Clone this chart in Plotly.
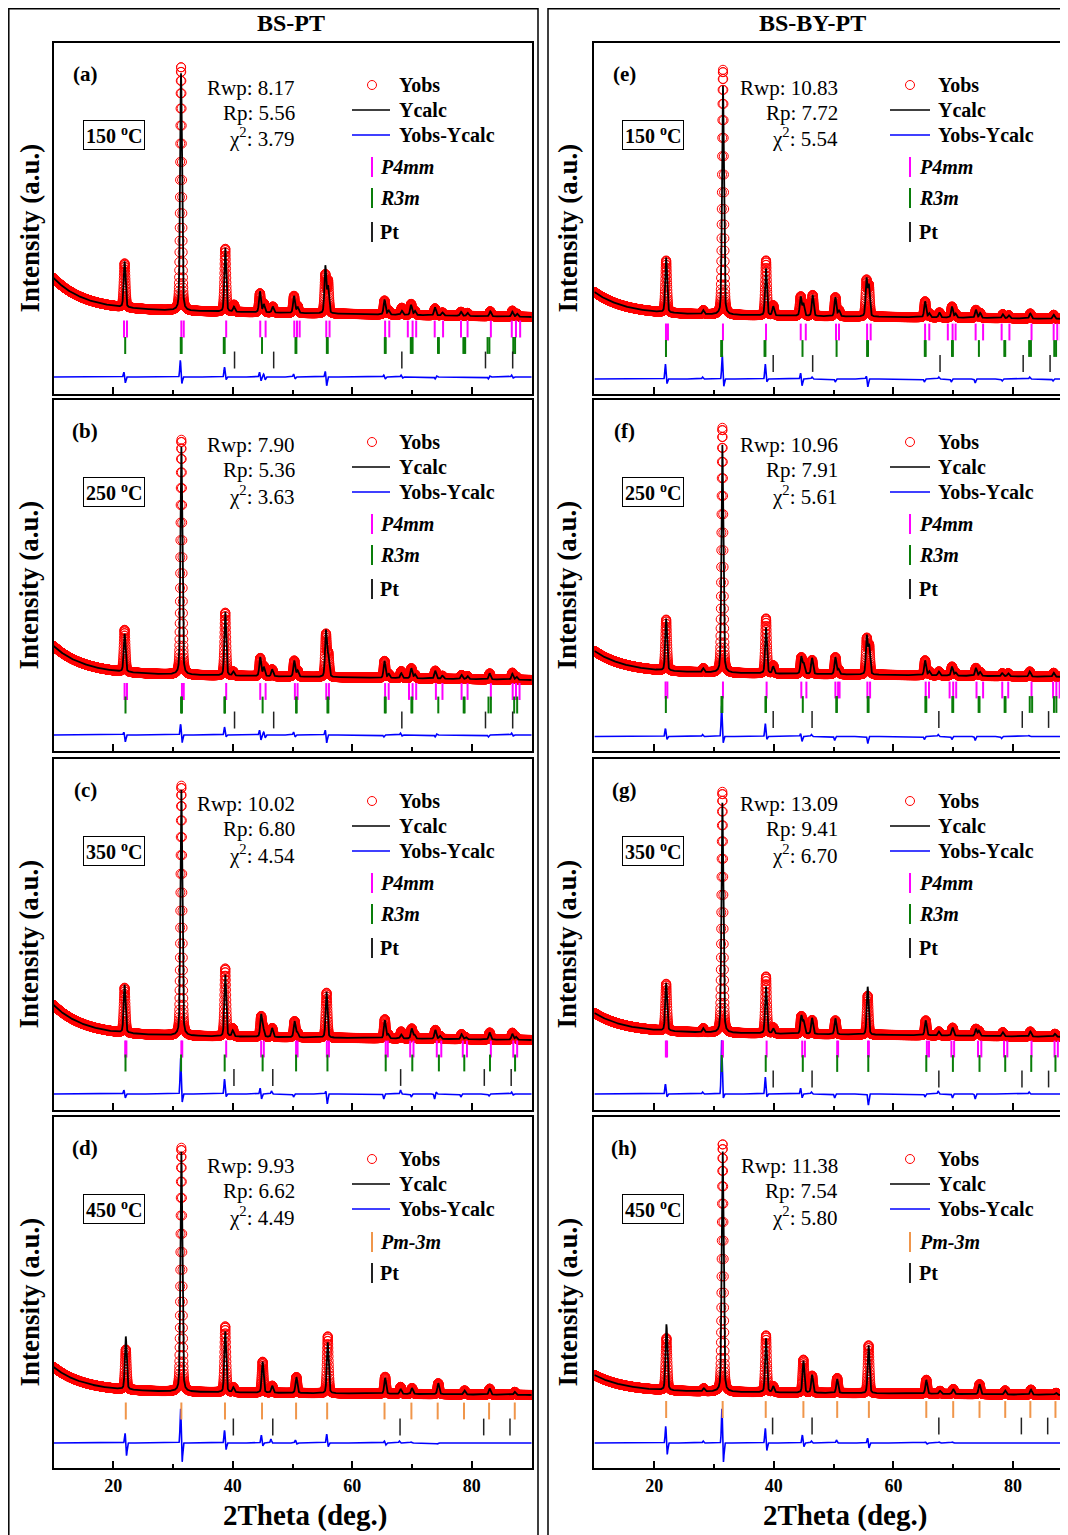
import numpy as np
import plotly.graph_objects as go

# page is drawn with an 8 px body margin: the figure starts at page pixel 8
OFF = 8
W, H = 1068, 1535 - OFF

# ---------------- data ----------------
# peak positions (2theta), observed / calculated peak heights above background
A_POS = [21.9, 31.35, 38.75, 40.2, 44.55, 45.2, 46.7, 50.25, 50.85, 55.5, 55.95, 65.4, 66.1, 68.3, 69.85, 70.5, 73.85, 75.1, 78.2, 79.3, 83.1, 86.8, 87.6]
A_OBS = [44, 244, 63, 7, 19, 9, 6, 17, 7, 38, 32, 14, 4, 7, 11, 4, 7, 3, 4, 3, 5, 6, 3]
A_CALC = [46, 238, 64, 5, 21, 8, 6, 17, 6, 47, 26, 15, 4, 4, 10, 4, 8, 3, 4, 3, 5, 5, 3]
A_BG = [116, 83, 77]
A_DIFF_POS = [21.9, 31.35, 38.75, 44.6, 45.3, 50.3, 55.6, 65.4, 68.3, 74.0, 82.9, 86.8]
A_DIFF_L = [5, 17, 10, 5, 3, 3, 6, 2, 2, -2, -2, 2]
A_DIFF_R = [-6, -7, -3, -4, -3, -2, -9, -2, -1, 1, 1, -1]
A_P4MM = [21.8, 22.3, 31.4, 31.8, 38.9, 44.6, 45.5, 50.3, 50.75, 51.2, 55.65, 56.2, 65.5, 66.2, 69.3, 70.1, 70.7, 73.8, 75.2, 78.2, 79.3, 83.2, 86.7, 87.4, 88.1]
A_R3M = [22.0, 31.3, 31.45, 38.5, 38.65, 44.9, 50.5, 50.65, 55.75, 55.9, 65.45, 65.6, 69.8, 69.95, 70.1, 74.35, 74.5, 78.6, 78.75, 78.9, 82.65, 82.95, 86.95, 87.25]
A_PT = [40.3, 46.85, 68.3, 82.3, 86.85]
A_STATS = ["8.17", "5.56", "3.79"]

B_POS = [21.9, 31.4, 38.75, 40.1, 44.6, 45.2, 46.6, 50.3, 50.85, 55.6, 56.0, 65.4, 66.1, 68.2, 69.9, 70.5, 73.9, 75.1, 78.3, 79.3, 83.0, 86.8, 87.5]
B_OBS = [42, 235, 63, 4, 18, 10, 7, 16, 6, 42, 22, 17, 4, 7, 10, 4, 8, 3, 4, 3, 6, 7, 3]
B_CALC = [38, 228, 64, 4, 19, 9, 7, 16, 6, 46, 20, 17, 4, 5, 10, 4, 8, 3, 4, 3, 6, 6, 3]
B_BG = [105, 76, 71]
B_DIFF_POS = [21.9, 31.4, 38.75, 44.6, 45.3, 50.3, 55.6, 65.4, 68.2, 74.0, 82.9, 86.8]
B_DIFF_L = [3, 11, 8, 5, 3, 3, 5, -2, 2, -2, -2, 2]
B_DIFF_R = [-7, -8, -2, -5, -3, -2, -8, 0, -1, 1, 0, -1]
B_P4MM = [21.9, 22.3, 31.5, 31.8, 38.9, 44.6, 45.5, 50.4, 50.85, 55.65, 56.1, 65.5, 66.1, 69.5, 70.1, 70.7, 74.0, 75.1, 78.3, 79.3, 83.2, 86.85, 87.4, 88.0]
B_R3M = [22.05, 31.35, 31.5, 38.6, 38.7, 45.0, 50.6, 50.7, 55.85, 56.0, 65.45, 65.6, 69.9, 70.05, 74.4, 78.65, 78.8, 82.8, 83.2, 87.1, 87.6]
B_PT = [40.3, 46.85, 68.3, 82.3, 86.85]
B_STATS = ["7.90", "5.36", "3.63"]

C_POS = [21.9, 31.4, 38.75, 40.0, 44.75, 45.1, 46.6, 50.35, 50.8, 55.7, 65.45, 66.0, 68.2, 69.95, 70.4, 73.9, 74.7, 78.3, 79.0, 83.0, 86.8, 87.4]
C_OBS = [45, 250, 68, 8, 20, 8, 9, 16, 5, 45, 19, 4, 7, 10, 4, 9, 3, 5, 2, 7, 7, 3]
C_CALC = [48, 246, 62, 6, 22, 8, 9, 16, 5, 46, 18, 4, 4, 10, 4, 9, 3, 5, 2, 7, 6, 3]
C_BG = [105, 74, 70]
C_DIFF_POS = [21.9, 31.4, 38.75, 44.7, 46.6, 50.3, 55.7, 65.4, 68.2, 70.0, 73.9, 78.3, 83.0, 86.8]
C_DIFF_L = [4, 36, 15, 6, 3, -3, 3, -5, 4, -3, -5, -3, -2, 2]
C_DIFF_R = [-4, -9, -3, -5, 0, 0, -10, 0, 0, 0, 2, 0, 0, -1]
C_P4MM = [22.0, 22.2, 31.4, 31.55, 38.9, 44.75, 45.2, 50.6, 50.85, 55.75, 56.1, 65.6, 65.95, 69.7, 70.25, 74.15, 74.9, 78.5, 79.2, 83.2, 86.95, 87.6]
C_R3M = [22.05, 31.35, 38.65, 45.0, 50.6, 55.85, 65.6, 70.05, 74.5, 78.75, 83.05, 87.25]
C_PT = [40.2, 46.7, 68.1, 82.1, 86.6]
C_STATS = ["10.02", "6.80", "4.54"]

D_POS = [22.1, 31.4, 38.75, 40.1, 45.0, 46.6, 50.65, 55.9, 65.5, 68.1, 70.0, 74.4, 78.8, 83.0, 87.2]
D_OBS = [40, 244, 66, 5, 31, 7, 16, 57, 17, 7, 6, 11, 4, 6, 3]
D_CALC = [53, 240, 61, 5, 31, 7, 16, 51, 16, 5, 6, 11, 4, 6, 3]
D_BG = [101, 76, 73]
D_DIFF_POS = [22.1, 31.4, 38.75, 44.9, 46.5, 50.6, 55.85, 65.5, 68.0, 70.0, 74.4]
D_DIFF_L = [10, 35, 13, 8, 4, 3, 9, 2, 2, 1, -1]
D_DIFF_R = [-13, -20, -7, -3, 0, -1, -4, -2, 0, 0, 0]
D_PM3M = [22.1, 31.4, 38.7, 44.9, 50.6, 55.8, 65.4, 69.9, 74.3, 78.7, 82.9, 87.2]
D_PT = [40.1, 46.7, 68.0, 82.0, 86.4]
D_STATS = ["9.93", "6.62", "4.49"]

E_POS = [22.0, 28.2, 31.5, 38.7, 39.9, 44.5, 44.95, 46.5, 50.3, 50.9, 55.5, 55.9, 65.3, 66.0, 67.7, 69.8, 70.4, 73.8, 74.5, 78.3, 79.3, 82.9, 86.8]
E_OBS = [52, 4, 245, 55, 10, 19, 12, 21, 19, 6, 35, 30, 16, 4, 5, 11, 4, 8, 5, 4, 3, 5, 4]
E_CALC = [55, 4, 229, 47, 9, 19, 12, 21, 19, 6, 37, 30, 16, 4, 5, 11, 4, 8, 5, 4, 3, 5, 4]
E_BG = [102, 79, 75]
E_DIFF_POS = [22.0, 28.2, 31.5, 38.7, 44.6, 46.5, 50.4, 55.6, 65.3, 67.7, 69.8, 73.8, 78.3, 82.9, 86.8]
E_DIFF_L = [15, 2, 24, 15, 6, 2, -3, 3, -3, 2, -3, -4, -2, 2, -2]
E_DIFF_R = [-5, 0, -8, -3, -7, 0, 0, -8, 0, 0, 0, 0, 0, 0, 0]
E_P4MM = [21.97, 22.3, 31.5, 38.7, 44.5, 45.35, 50.4, 50.9, 55.6, 56.2, 65.3, 66.0, 69.1, 69.9, 70.4, 73.75, 75.0, 78.1, 79.4, 83.1, 86.8, 87.4, 88.0]
E_R3M = [21.97, 31.2, 31.35, 38.45, 38.6, 44.8, 50.5, 55.6, 55.75, 65.25, 65.4, 69.8, 69.95, 74.3, 78.55, 78.7, 82.7, 83.0, 86.9, 87.2]
E_PT = [39.9, 46.5, 67.8, 81.7, 86.2]
E_STATS = ["10.83", "7.72", "5.54"]

F_POS = [22.0, 28.2, 31.4, 38.7, 39.9, 44.6, 45.0, 46.4, 50.3, 50.8, 55.55, 55.95, 65.3, 66.0, 67.6, 69.8, 70.4, 73.8, 74.5, 78.2, 79.2, 82.8, 86.8]
F_OBS = [51, 4, 245, 55, 8, 16, 10, 14, 17, 5, 35, 28, 15, 4, 4, 9, 3, 8, 4, 3, 3, 5, 4]
F_CALC = [52, 4, 228, 46, 7, 17, 10, 16, 17, 5, 38, 28, 15, 4, 4, 9, 3, 8, 4, 3, 3, 5, 4]
F_BG = [100, 78, 74]
F_DIFF_POS = [22.0, 28.2, 31.4, 38.7, 44.6, 46.4, 50.3, 55.6, 65.3, 67.6, 69.9, 73.8, 78.2, 82.8]
F_DIFF_L = [8, 2, 31, 13, 3, 2, -4, 0, -3, 2, -3, -4, -2, 1]
F_DIFF_R = [-3, 0, -7, -3, -5, 0, 0, -7, 0, 0, 0, 0, 0, 0]
F_P4MM = [21.9, 22.2, 31.5, 38.8, 44.6, 45.45, 50.3, 50.75, 51.0, 55.65, 56.1, 65.4, 65.95, 69.4, 70.0, 70.5, 73.9, 75.0, 78.2, 79.2, 83.1, 86.7, 87.25, 87.8]
F_R3M = [21.95, 31.25, 31.4, 38.6, 38.7, 44.85, 50.45, 50.55, 55.7, 55.85, 65.35, 65.5, 69.85, 70.0, 74.25, 74.4, 78.6, 78.75, 82.8, 83.2, 86.85, 87.25]
F_PT = [39.9, 46.4, 67.6, 81.55, 85.95]
F_STATS = ["10.96", "7.91", "5.61"]

G_POS = [22.0, 28.2, 31.4, 38.7, 39.9, 44.6, 45.0, 46.4, 50.3, 55.7, 65.4, 67.6, 69.9, 73.8, 74.3, 78.3, 82.9, 87.0]
G_OBS = [47, 4, 241, 57, 6, 17, 12, 14, 14, 39, 15, 4, 8, 7, 5, 4, 5, 3]
G_CALC = [48, 4, 230, 47, 5, 18, 12, 16, 16, 48, 15, 4, 8, 7, 5, 4, 5, 3]
G_BG = [97, 77, 73]
G_DIFF_POS = [22.0, 28.2, 31.4, 38.7, 44.6, 46.4, 50.3, 55.7, 65.4, 67.6, 70.0, 73.8, 82.8]
G_DIFF_L = [10, 2, 54, 17, 6, 2, -4, 0, -3, 3, -4, -5, 2]
G_DIFF_R = [-3, 0, -5, -3, -4, 0, 0, -11, 0, 0, 0, 0, 0]
G_P4MM = [21.95, 22.15, 31.4, 31.5, 38.8, 44.75, 45.2, 50.6, 50.75, 55.75, 55.9, 65.6, 65.95, 69.7, 70.15, 74.15, 74.7, 78.5, 79.05, 83.1, 86.95, 87.5]
G_R3M = [31.3, 38.65, 44.85, 50.6, 55.8, 65.5, 69.95, 74.4, 78.7, 83.05, 87.1]
G_PT = [39.9, 46.4, 67.6, 81.5, 85.95]
G_STATS = ["13.09", "9.41", "6.70"]

H_POS = [22.05, 28.3, 31.45, 38.7, 39.9, 44.95, 46.4, 50.6, 55.85, 65.5, 67.8, 70.0, 74.4, 78.7, 83.0, 87.2]
H_OBS = [52, 3, 248, 57, 6, 33, 17, 15, 48, 14, 3, 5, 10, 4, 5, 2]
H_CALC = [66, 3, 241, 54, 6, 32, 18, 14, 48, 14, 3, 5, 10, 4, 5, 2]
H_BG = [93, 76, 73]
H_DIFF_POS = [22.05, 28.3, 31.45, 38.7, 44.9, 46.4, 50.6, 55.8, 65.5, 67.8, 70.0]
H_DIFF_L = [17, 2, 35, 15, 8, 2, 3, 5, 1, 1, 1]
H_DIFF_R = [-12, 0, -20, -8, -4, 0, 0, -5, -1, 0, 0]
H_PM3M = [22.0, 31.45, 38.65, 44.95, 50.6, 55.9, 65.5, 70.0, 74.4, 78.7, 82.9, 87.1]
H_PT = [39.8, 46.4, 67.6, 81.4, 85.8]
H_STATS = ["11.38", "7.54", "5.80"]

TEMPS = ["150", "250", "350", "450"]
COLUMN_TITLES = ["BS-PT", "BS-BY-PT"]
X_TICKS = [20, 40, 60, 80]

# ---------------- styling / layout ----------------
RED, BLACK, BLUE = "#ff0000", "#000000", "#0000ff"
MAGENTA, GREEN, ORANGE, PTC = "#ff00ff", "#0a7d0a", "#f0964b", "#222222"
FONT = "Liberation Serif"

ROWS = [(43, 394), (400, 751), (759, 1110), (1117, 1468)]
PX_PER_DEG = 5.98
RIGHT_END = OFF + W  # right column runs to the figure edge (beyond the window)
COLS = [(53.5, 531.5, 90.0), (594.4, RIGHT_END, 10 + (RIGHT_END - 594.4) / PX_PER_DEG)]


def fx(px):
    return (px - OFF) / W


def fy(py):
    return 1 - (py - OFF) / H


X = np.arange(10.0, 90.9, 0.02)


def profile(x, pos, amp, fwhm=0.36, eta=0.3):
    y = np.zeros_like(x)
    for p, a in zip(pos, amp):
        d = (x - p) / (fwhm / 2)
        y += a * (eta / (1 + d ** 2) + (1 - eta) * np.exp(-np.log(2) * d ** 2))
    return y


def background(x, bg, tau=5.0):
    L, M, R = bg
    lin = M + (R - M) * (x - 30) / 60
    lin10 = M + (R - M) * (10 - 30) / 60
    return lin + (L - lin10) * np.exp(-(x - 10) / tau)


def diff_curve(x, base, pos, left, right, d=0.12, w=0.22):
    y = np.full_like(x, float(base))
    for p, a, b in zip(pos, left, right):
        y += a * np.exp(-4 * np.log(2) * ((x - p + d) / w) ** 2)
        y += b * np.exp(-4 * np.log(2) * ((x - p - d) / w) ** 2)
    return y


PANELS = [
    dict(k="a", c=0, r=0, pos=A_POS, obs=A_OBS, calc=A_CALC, bg=A_BG, dp=A_DIFF_POS, dl=A_DIFF_L, dr=A_DIFF_R, db=17,
         ph=[(A_P4MM, MAGENTA, 65, "P4mm", True), (A_R3M, GREEN, 48.5, "R3m", True), (A_PT, PTC, 34, "Pt", False)], st=A_STATS),
    dict(k="b", c=0, r=1, pos=B_POS, obs=B_OBS, calc=B_CALC, bg=B_BG, dp=B_DIFF_POS, dl=B_DIFF_L, dr=B_DIFF_R, db=16,
         ph=[(B_P4MM, MAGENTA, 59.5, "P4mm", True), (B_R3M, GREEN, 46, "R3m", True), (B_PT, PTC, 31, "Pt", False)], st=B_STATS),
    dict(k="c", c=0, r=2, pos=C_POS, obs=C_OBS, calc=C_CALC, bg=C_BG, dp=C_DIFF_POS, dl=C_DIFF_L, dr=C_DIFF_R, db=16,
         ph=[(C_P4MM, MAGENTA, 61, "P4mm", True), (C_R3M, GREEN, 47, "R3m", True), (C_PT, PTC, 32.5, "Pt", False)], st=C_STATS),
    dict(k="d", c=0, r=3, pos=D_POS, obs=D_OBS, calc=D_CALC, bg=D_BG, dp=D_DIFF_POS, dl=D_DIFF_L, dr=D_DIFF_R, db=25,
         ph=[(D_PM3M, ORANGE, 57, "Pm-3m", True), (D_PT, PTC, 41, "Pt", False)], st=D_STATS),
    dict(k="e", c=1, r=0, pos=E_POS, obs=E_OBS, calc=E_CALC, bg=E_BG, dp=E_DIFF_POS, dl=E_DIFF_L, dr=E_DIFF_R, db=15,
         ph=[(E_P4MM, MAGENTA, 62, "P4mm", True), (E_R3M, GREEN, 45.5, "R3m", True), (E_PT, PTC, 30.5, "Pt", False)], st=E_STATS),
    dict(k="f", c=1, r=1, pos=F_POS, obs=F_OBS, calc=F_CALC, bg=F_BG, dp=F_DIFF_POS, dl=F_DIFF_L, dr=F_DIFF_R, db=14.5,
         ph=[(F_P4MM, MAGENTA, 61, "P4mm", True), (F_R3M, GREEN, 46.5, "R3m", True), (F_PT, PTC, 31.5, "Pt", False)], st=F_STATS),
    dict(k="g", c=1, r=2, pos=G_POS, obs=G_OBS, calc=G_CALC, bg=G_BG, dp=G_DIFF_POS, dl=G_DIFF_L, dr=G_DIFF_R, db=16,
         ph=[(G_P4MM, MAGENTA, 61, "P4mm", True), (G_R3M, GREEN, 46.5, "R3m", True), (G_PT, PTC, 31, "Pt", False)], st=G_STATS),
    dict(k="h", c=1, r=3, pos=H_POS, obs=H_OBS, calc=H_CALC, bg=H_BG, dp=H_DIFF_POS, dl=H_DIFF_L, dr=H_DIFF_R, db=25,
         ph=[(H_PM3M, ORANGE, 58.5, "Pm-3m", True), (H_PT, PTC, 42, "Pt", False)], st=H_STATS),
]

fig = go.Figure()
layout = dict(width=W, height=H, autosize=False, margin=dict(l=0, r=0, t=0, b=0),
              paper_bgcolor="white", plot_bgcolor="white", showlegend=False)
shapes, annotations = [], []


def text(x, y, s, size=20, xanchor="center", **kw):
    annotations.append(dict(x=fx(x), y=fy(y), xref="paper", yref="paper", text=s, showarrow=False,
                            xanchor=xanchor, yanchor="middle",
                            font=dict(family=FONT, size=size, color="black"), **kw))


def pline(x0, y0, x1, y1, color, width):
    shapes.append(dict(type="line", xref="paper", yref="paper", x0=fx(x0), y0=fy(y0), x1=fx(x1), y1=fy(y1),
                       line=dict(color=color, width=width)))


for i, p in enumerate(PANELS, start=1):
    c, r = p["c"], p["r"]
    xl, xr, xmax = COLS[c]
    top, bot = ROWS[r]
    xa, ya = ("x", "y") if i == 1 else (f"x{i}", f"y{i}")
    bgv = background(X, p["bg"])
    yobs = bgv + profile(X, p["pos"], p["obs"])
    ycalc = bgv + profile(X, p["pos"], p["calc"])
    ydiff = diff_curve(X, p["db"], p["dp"], p["dl"], p["dr"])

    fig.add_trace(go.Scatter(x=X, y=yobs, mode="markers", xaxis=xa, yaxis=ya, hoverinfo="skip",
                             marker=dict(symbol="circle-open", size=9, color=RED, line=dict(width=1, color=RED))))
    fig.add_trace(go.Scatter(x=X, y=ycalc, mode="lines", xaxis=xa, yaxis=ya, hoverinfo="skip",
                             line=dict(color=BLACK, width=1.8)))
    fig.add_trace(go.Scatter(x=X, y=ydiff, mode="lines", xaxis=xa, yaxis=ya, hoverinfo="skip",
                             line=dict(color=BLUE, width=1.6)))
    for ticks, col, row_y, name, thick in p["ph"]:
        fig.add_trace(go.Scatter(x=ticks, y=[row_y] * len(ticks), mode="markers", xaxis=xa, yaxis=ya,
                                 hoverinfo="skip",
                                 marker=dict(symbol="line-ns", size=12, color=col,
                                             line=dict(color=col, width=2 if thick else 1.5))))

    sfx = "" if i == 1 else str(i)
    layout["xaxis" + sfx] = dict(
        domain=[fx(xl), min(1.0, fx(xr))], range=[10, xmax], anchor="y" + sfx,
        showline=True, linewidth=2, linecolor="black", mirror=True,
        ticks="inside", ticklen=7, tickwidth=2, tickcolor="black",
        tickvals=X_TICKS, showgrid=False, zeroline=False,
        minor=dict(ticks="inside", ticklen=4, tickwidth=2, tickcolor="black", tickvals=[30, 50, 70]),
        showticklabels=(r == 3),
        tickfont=dict(family=FONT, size=18, color="black", weight="bold"))
    layout["yaxis" + sfx] = dict(
        domain=[fy(bot), fy(top)], range=[0, bot - top], anchor="x" + sfx,
        showline=True, linewidth=2, linecolor="black", mirror=(c == 0),
        showticklabels=False, ticks="", showgrid=False, zeroline=False)

    # ---- annotations ----
    if c == 0:
        lab_x, box_x, stat_r, circ_x, ln0, ln1, txt_x, bar_x, ph_x, ytit_x = 85, 114, 297, 372, 352, 390, 397, 372, 378, 29
    else:
        lab_x, box_x, stat_r, circ_x, ln0, ln1, txt_x, bar_x, ph_x, ytit_x = 624, 653, 840, 910, 890, 930, 936, 910, 917, 567
    cubic = r == 3
    text(lab_x, top + 31, f"<b>({p['k']})</b>", size=21)
    text(box_x, top + 92, f"<b>{TEMPS[r]} <sup>o</sup>C</b>", size=20,
         bordercolor="black", borderwidth=1, borderpad=2, bgcolor="white")
    s0 = top + (49 if cubic else 45)
    text(stat_r, s0, f"Rwp: {p['st'][0]}", size=21, xanchor="right")
    text(stat_r, s0 + 25, f"Rp: {p['st'][1]}", size=21, xanchor="right")
    text(stat_r, s0 + 50, f"χ<sup>2</sup>: {p['st'][2]}", size=21, xanchor="right")
    ly = top + 42
    shapes.append(dict(type="circle", xref="paper", yref="paper", x0=fx(circ_x - 4.5), x1=fx(circ_x + 4.5),
                       y0=fy(ly + 4.5), y1=fy(ly - 4.5), line=dict(color=RED, width=1)))
    text(txt_x, ly, "<b>Yobs</b>", xanchor="left")
    pline(ln0, ly + 25, ln1, ly + 25, BLACK, 1.6)
    text(txt_x, ly + 25, "<b>Ycalc</b>", xanchor="left")
    pline(ln0, ly + 50, ln1, ly + 50, BLUE, 1.6)
    text(txt_x, ly + 50, "<b>Yobs-Ycalc</b>", xanchor="left")
    offs = (125, 156) if cubic else (124, 155, 189)
    for (ticks, col, row_y, name, thick), off in zip(p["ph"], offs):
        yy = top + off
        pline(bar_x, yy - 10, bar_x, yy + 10, col, 2)
        label = f"<b>{name}</b>" if name == "Pt" else f"<b><i>{name}</i></b>"
        text(ph_x, yy, label, xanchor="left")
    text(ytit_x, (top + bot) / 2 + 10, "<b>Intensity (a.u.)</b>", size=27, textangle=-90)

# column frames and titles
shapes.append(dict(type="rect", xref="paper", yref="paper", x0=fx(8.8), x1=fx(538), y0=-0.02, y1=fy(8.8),
                   line=dict(color="black", width=1.5)))
shapes.append(dict(type="rect", xref="paper", yref="paper", x0=fx(548), x1=1.02, y0=-0.02, y1=fy(8.8),
                   line=dict(color="black", width=1.5)))
text(291, 23, f"<b>{COLUMN_TITLES[0]}</b>", size=24)
text(812, 23, f"<b>{COLUMN_TITLES[1]}</b>", size=24)
text(305, 1515, "<b>2Theta (deg.)</b>", size=29)
text(845, 1515, "<b>2Theta (deg.)</b>", size=29)

layout["shapes"] = shapes
layout["annotations"] = annotations
fig.update_layout(**layout)
fig.write_html("out.html",
               post_script="document.documentElement.style.overflow='hidden';document.body.style.overflow='hidden';")
